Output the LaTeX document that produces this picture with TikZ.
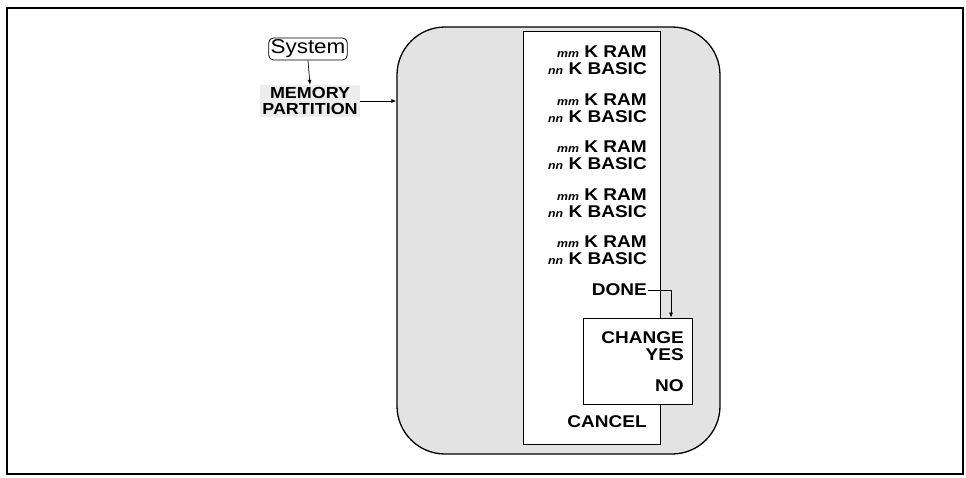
\documentclass[tikz,border=0pt]{standalone}
\usepackage{fontspec}
\setmainfont{Liberation Sans}[FakeStretch=1.12]
\usetikzlibrary{arrows.meta}
\newcommand{\smit}[1]{{\fontsize{11}{11}\selectfont\itshape #1}}
\begin{document}
\begin{tikzpicture}[x=1pt,y=-1pt,
  lbl/.style={font=\fontsize{17}{17}\selectfont\bfseries, inner sep=1pt, anchor=east},
  arr/.style={-{Latex[length=5pt,width=4pt]}, line width=0.7pt},
  shadebox/.style={draw, line width=1.3pt, rounded corners=48pt, fill=gray!22},
  panelbox/.style={draw, line width=0.8pt, fill=white, inner sep=0pt},
]
\useasboundingbox (0,0) rectangle (966,477);
\draw[line width=1.4pt] (7,8) rectangle (963,474);

% left nodes
\node[draw, line width=0.8pt, rounded corners=5pt, inner sep=2pt,
      font=\fontsize{20}{20}\selectfont] (sys) at (308,49) {System};
\node[font=\fontsize{16}{16.5}\selectfont\bfseries, align=center, fill=gray!14,
      inner sep=2pt] (mem) at (310,101) {MEMORY\\PARTITION};

% big shaded rounded box and white panel
\node[shadebox, minimum width=323, minimum height=427] (big) at (558.5,240.5) {};
\node[panelbox, minimum width=137, minimum height=413] (panel) at (591.5,237.5) {};

% rows
\node[lbl] (ram1) at (648,52)  {\smit{mm} K RAM};
\node[lbl] (bas1) at (648,69)  {\smit{nn} K BASIC};
\node[lbl] (ram2) at (648,100) {\smit{mm} K RAM};
\node[lbl] (bas2) at (648,117) {\smit{nn} K BASIC};
\node[lbl] (ram3) at (648,147) {\smit{mm} K RAM};
\node[lbl] (bas3) at (648,164) {\smit{nn} K BASIC};
\node[lbl] (ram4) at (648,195) {\smit{mm} K RAM};
\node[lbl] (bas4) at (648,212) {\smit{nn} K BASIC};
\node[lbl] (ram5) at (648,242) {\smit{mm} K RAM};
\node[lbl] (bas5) at (648,259) {\smit{nn} K BASIC};
\node[lbl] (done) at (648,290) {DONE};

% change box
\node[panelbox, minimum width=109, minimum height=86] (chg) at (637.5,361) {};
\node[lbl] (change) at (685,338) {CHANGE};
\node[lbl] (yes) at (685,355) {YES};
\node[lbl] (no) at (685,386) {NO};

\node[lbl] (cancel) at (648,422) {CANCEL};

% connectors
\coordinate (dx) at (671,0);
\draw[arr] (sys.south) -- (mem.north);
\draw[arr] (mem.east) -- (mem.east -| big.west);
\draw[arr] (done.east) -| (chg.north -| dx);
\end{tikzpicture}
\end{document}
